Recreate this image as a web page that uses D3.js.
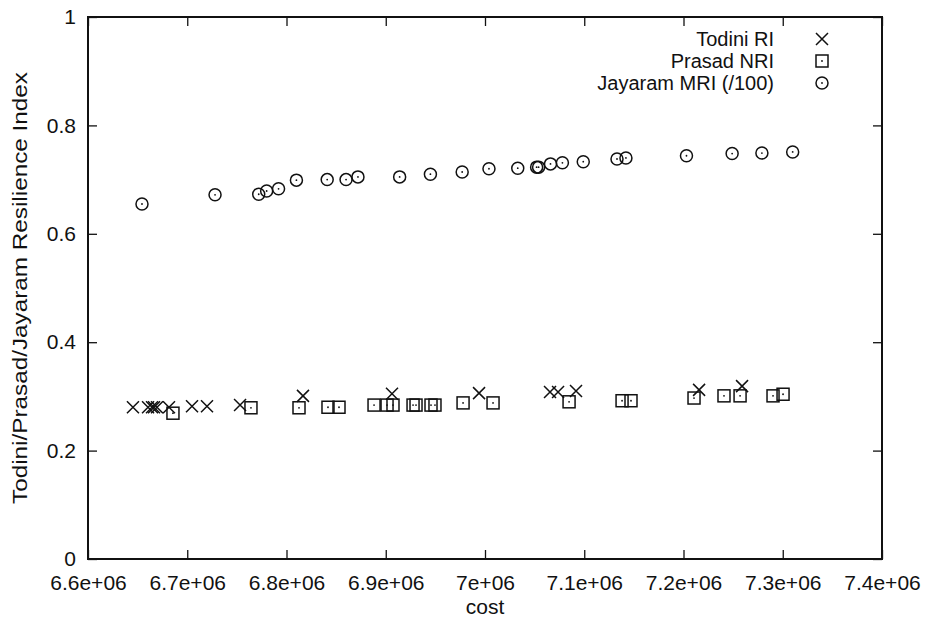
<!DOCTYPE html>
<html>
<head>
<meta charset="utf-8">
<title>Resilience index vs cost</title>
<script src="https://d3js.org/d3.v7.min.js"></script>
<style>
body { margin: 0; background: #fff; }
svg { display: block; }
text { font-family: "Liberation Sans", Arial, sans-serif; fill: #111; }
</style>
</head>
<body>
<script>
// values
var todiniCost = [6.6453e6, 6.6605e6, 6.6645e6, 6.6665e6, 6.6695e6, 6.6816e6, 6.7048e6, 6.7199e6,
                  6.7532e6, 6.8166e6, 6.9063e6, 6.9940e6, 7.0655e6, 7.0736e6, 7.0917e6, 7.2157e6, 7.2590e6];
var todiniRI   = [0.280, 0.280, 0.280, 0.280, 0.280, 0.280, 0.282, 0.282,
                  0.284, 0.301, 0.305, 0.306, 0.308, 0.308, 0.310, 0.312, 0.319];

var prasadCost = [6.6856e6, 6.7642e6, 6.8126e6, 6.8418e6, 6.8529e6, 6.8882e6, 6.9013e6, 6.9073e6,
                  6.9275e6, 6.9305e6, 6.9456e6, 6.9496e6, 6.9779e6, 7.0081e6, 7.0847e6, 7.1381e6,
                  7.1471e6, 7.2106e6, 7.2408e6, 7.2570e6, 7.2902e6, 7.3003e6];
var prasadNRI  = [0.269, 0.279, 0.279, 0.280, 0.280, 0.284, 0.284, 0.284,
                  0.284, 0.284, 0.284, 0.284, 0.288, 0.288, 0.290, 0.292,
                  0.292, 0.297, 0.301, 0.301, 0.301, 0.304];

var jayaramCost = [6.6544e6, 6.7280e6, 6.7720e6, 6.7800e6, 6.7920e6, 6.8100e6, 6.8410e6, 6.8600e6,
                   6.8720e6, 6.9140e6, 6.9450e6, 6.9770e6, 7.0040e6, 7.0330e6, 7.0520e6, 7.0540e6,
                   7.0660e6, 7.0780e6, 7.0990e6, 7.1330e6, 7.1420e6, 7.2030e6, 7.2490e6, 7.2790e6, 7.3100e6];
var jayaramMRI  = [0.655, 0.672, 0.673, 0.679, 0.683, 0.699, 0.700, 0.700,
                   0.705, 0.705, 0.710, 0.714, 0.720, 0.721, 0.723, 0.723,
                   0.729, 0.731, 0.733, 0.738, 0.740, 0.744, 0.748, 0.749, 0.751];

var xTicks = [6.6e6, 6.7e6, 6.8e6, 6.9e6, 7.0e6, 7.1e6, 7.2e6, 7.3e6, 7.4e6];
var xTickLabels = ["6.6e+06", "6.7e+06", "6.8e+06", "6.9e+06", "7e+06", "7.1e+06", "7.2e+06", "7.3e+06", "7.4e+06"];
var yTicks = [0, 0.2, 0.4, 0.6, 0.8, 1];
var yTickLabels = ["0", "0.2", "0.4", "0.6", "0.8", "1"];
var legendNames = ["Todini RI", "Prasad NRI", "Jayaram MRI (/100)"];

var W = 931, H = 622;
var margin = { top: 17, right: 49, bottom: 63, left: 88 },
    width = W - margin.left - margin.right,
    height = H - margin.top - margin.bottom;

var svg = d3.select("body").append("svg")
    .attr("width", W)
    .attr("height", H);

var g = svg.append("g")
    .attr("transform", "translate(" + margin.left + "," + margin.top + ")");

var x = d3.scaleLinear().domain([6.6e6, 7.4e6]).range([0, width]);
var y = d3.scaleLinear().domain([0, 1]).range([height, 0]);

var fs = 21;
var tickLen = 9;
var ink = "#111";

// axes, gnuplot style: inward ticks mirrored on all sides
var xAxisB = d3.axisBottom(x).tickValues(xTicks).tickSizeInner(-tickLen).tickSizeOuter(0)
    .tickPadding(16).tickFormat(function (d, i) { return xTickLabels[i]; });
var xAxisT = d3.axisTop(x).tickValues(xTicks).tickSizeInner(-tickLen).tickSizeOuter(0).tickFormat("");
var yAxisL = d3.axisLeft(y).tickValues(yTicks).tickSizeInner(-tickLen).tickSizeOuter(0)
    .tickPadding(12).tickFormat(function (d, i) { return yTickLabels[i]; });
var yAxisR = d3.axisRight(y).tickValues(yTicks).tickSizeInner(-tickLen).tickSizeOuter(0).tickFormat("");

function styleAxis(sel) {
    sel.select(".domain").remove();
    sel.selectAll(".tick line").attr("stroke", ink).attr("stroke-width", 1.3);
    sel.selectAll(".tick text").style("font-size", fs + "px").attr("fill", ink)
        .style("font-family", "'Liberation Sans', Arial, sans-serif");
}

g.append("g").attr("transform", "translate(0," + height + ")").call(xAxisB).call(styleAxis);
g.append("g").call(xAxisT).call(styleAxis);
g.append("g").call(yAxisL).call(styleAxis);
g.append("g").attr("transform", "translate(" + width + ",0)").call(yAxisR).call(styleAxis);

// frame
g.append("rect")
    .attr("x", 0).attr("y", 0)
    .attr("width", width).attr("height", height)
    .attr("fill", "none")
    .attr("stroke", ink)
    .attr("stroke-width", 2);

// axis titles
svg.append("text")
    .attr("x", margin.left + width / 2)
    .attr("y", 614)
    .attr("text-anchor", "middle")
    .style("font-size", fs + "px")
    .text("cost");

svg.append("text")
    .attr("transform", "translate(27," + (margin.top + height / 2) + ") rotate(-90)")
    .attr("text-anchor", "middle")
    .attr("textLength", 432)
    .attr("lengthAdjust", "spacingAndGlyphs")
    .style("font-size", fs + "px")
    .text("Todini/Prasad/Jayaram Resilience Index");

// point symbols
var ps = 6;
function drawCross(sel) {
    sel.append("path")
        .attr("d", "M" + (-ps) + "," + (-ps) + "L" + ps + "," + ps + "M" + (-ps) + "," + ps + "L" + ps + "," + (-ps))
        .attr("stroke", ink).attr("stroke-width", 1.5).attr("fill", "none");
}
function drawSquare(sel) {
    sel.append("rect")
        .attr("x", -ps).attr("y", -ps).attr("width", 2 * ps).attr("height", 2 * ps)
        .attr("stroke", ink).attr("stroke-width", 1.5).attr("fill", "none");
    sel.append("circle").attr("r", 0.9).attr("fill", ink);
}
function drawCircle(sel) {
    sel.append("circle").attr("r", ps)
        .attr("stroke", ink).attr("stroke-width", 1.5).attr("fill", "none");
    sel.append("circle").attr("r", 0.9).attr("fill", ink);
}

var series = [
    { cost: todiniCost, val: todiniRI, draw: drawCross },
    { cost: prasadCost, val: prasadNRI, draw: drawSquare },
    { cost: jayaramCost, val: jayaramMRI, draw: drawCircle }
];

series.forEach(function (s) {
    var pts = s.cost.map(function (c, i) { return [c, s.val[i]]; });
    g.append("g").selectAll("g")
        .data(pts)
        .enter().append("g")
        .attr("transform", function (d) { return "translate(" + x(d[0]) + "," + y(d[1]) + ")"; })
        .each(function () { s.draw(d3.select(this)); });
});

// legend
var legend = g.append("g").attr("transform", "translate(" + (width - 60) + ",22)");
legendNames.forEach(function (name, i) {
    var row = legend.append("g").attr("transform", "translate(0," + (i * 22) + ")");
    row.append("text")
        .attr("x", -48)
        .attr("y", 0)
        .attr("dy", "0.35em")
        .attr("text-anchor", "end")
        .style("font-size", "20px")
        .text(name);
    var m = row.append("g");
    series[i].draw(m);
});
</script>
</body>
</html>
